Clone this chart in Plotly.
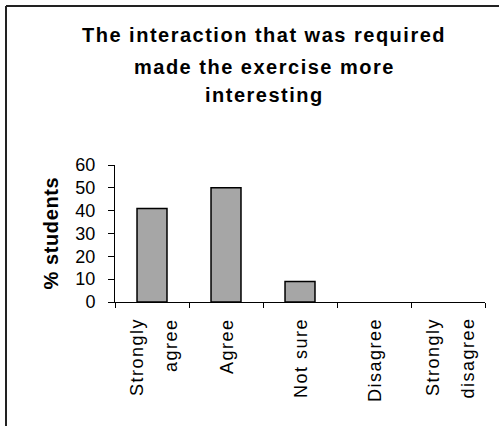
import plotly.graph_objects as go

# ---- data ----
categories = ["Strongly agree", "Agree", "Not sure", "Disagree", "Strongly disagree"]
category_label_lines = [["Strongly", "agree"], ["Agree"], ["Not sure"], ["Disagree"], ["Strongly", "disagree"]]
percent_students = [41, 50, 9, 0, 0]
y_tick_values = [0, 10, 20, 30, 40, 50, 60]
title_lines = ["The interaction that was required", "made the exercise more", "interesting"]
y_title = "% students"

# ---- layout constants ----
W, H = 499, 426
ML, MR, MT, MB = 115, 14, 165, 124
PW, PH = W - ML - MR, H - MT - MB
FONT = "Liberation Sans, Arial, sans-serif"


def px_x(px):
    return (px - ML) / PW


def px_y(py):
    return (H - MB - py) / PH


def spaced(text, ls):
    return f"<span style='letter-spacing:{ls}px'>{text}</span>"


fig = go.Figure()
fig.add_trace(go.Bar(
    x=categories,
    y=percent_students,
    marker=dict(color="#a6a6a6",
                line=dict(color="#000000", width=[1.5 if v > 0 else 0 for v in percent_students])),
    hoverinfo="skip",
))

annotations = []
# title lines
title_centers = [34.5, 66.5, 95.5]
for line, cy in zip(title_lines, title_centers):
    annotations.append(dict(
        text="<b>" + spaced(line, 1.5) + "</b>", x=px_x(264), y=px_y(cy),
        xref="paper", yref="paper", xanchor="center", yanchor="middle",
        showarrow=False, font=dict(family=FONT, size=20, color="#000000"),
    ))
# y axis title
annotations.append(dict(
    text="<b>" + spaced(y_title, 0.6) + "</b>", x=px_x(50), y=0.5,
    xref="paper", yref="paper", xanchor="center", yanchor="middle",
    textangle=-90, showarrow=False, font=dict(family=FONT, size=20, color="#000000"),
))
# category labels (rotated, top aligned)
for cat, lines in zip(categories, category_label_lines):
    shifts = [1] if len(lines) == 1 else [-15, 19]
    for line, s in zip(lines, shifts):
        annotations.append(dict(
            text=spaced(line, 1.5), x=cat, y=px_y(316), xref="x", yref="paper",
            xanchor="center", yanchor="top", xshift=s, textangle=-90,
            showarrow=False, font=dict(family=FONT, size=18, color="#000000"),
        ))

# outer chart frame (top and left edges visible)
shapes = [
    dict(type="line", xref="paper", yref="paper", x0=px_x(6), x1=px_x(W + 2), y0=px_y(6), y1=px_y(6),
         line=dict(color="#222222", width=2)),
    dict(type="line", xref="paper", yref="paper", x0=px_x(6), x1=px_x(6), y0=px_y(6), y1=px_y(H + 2),
         line=dict(color="#222222", width=2)),
]

fig.update_layout(
    width=W, height=H,
    margin=dict(l=ML, r=MR, t=MT, b=MB, pad=0),
    paper_bgcolor="#ffffff", plot_bgcolor="#ffffff",
    showlegend=False,
    bargap=0.595,
    annotations=annotations,
    shapes=shapes,
    font=dict(family=FONT, size=18, color="#000000"),
)
fig.update_xaxes(
    type="category", showticklabels=False, tickson="boundaries",
    ticks="outside", ticklen=5, tickcolor="#000000", tickwidth=1,
    showline=True, linecolor="#000000", linewidth=1,
    showgrid=False, zeroline=False, fixedrange=True,
)
fig.update_yaxes(
    range=[0, 60], tickvals=y_tick_values, ticktext=[str(v) for v in y_tick_values],
    ticks="outside", ticklen=6, tickcolor="#000000", tickwidth=1,
    ticklabelstandoff=9,
    tickfont=dict(family=FONT, size=18, color="#000000"),
    showline=True, linecolor="#000000", linewidth=1,
    showgrid=False, zeroline=False, fixedrange=True,
)

fig.write_html("out.html", config={"displayModeBar": False})
